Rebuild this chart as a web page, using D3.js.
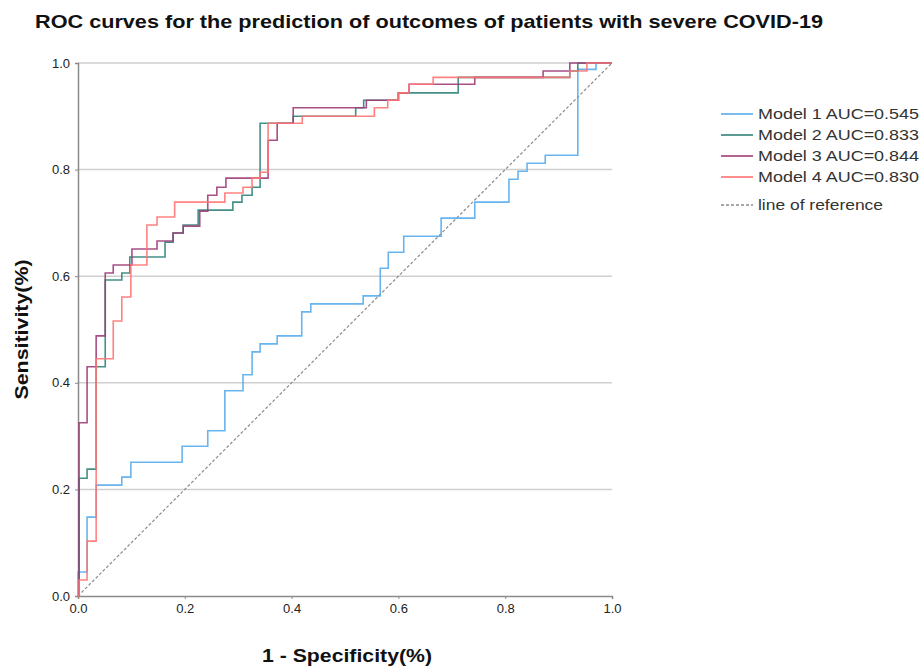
<!DOCTYPE html>
<html>
<head>
<meta charset="utf-8">
<script src="https://cdn.jsdelivr.net/npm/d3@7/dist/d3.min.js"></script>
<style>
  html, body { margin: 0; padding: 0; background: #fff; }
  svg text { font-family: "Liberation Sans", Arial, sans-serif; }
</style>
</head>
<body>
<svg id="chart" width="921" height="666"></svg>
<script>
// ---- data (points are [1-specificity, sensitivity] after each step) ----
const title = "ROC curves for the prediction of outcomes of patients with severe COVID-19";
const xLabel = "1 - Specificity(%)";
const yLabel = "Sensitivity(%)";
const tickValues = [0, 0.2, 0.4, 0.6, 0.8, 1.0];
const seriesNames = ["Model 1 AUC=0.545", "Model 2 AUC=0.833", "Model 3 AUC=0.844", "Model 4 AUC=0.830"];
const referenceName = "line of reference";
const seriesColors = ["#58acec", "#2f8479", "#9e3c78", "#ff7474"];

const model1 = [[0,0],[0,0.045],[0.017,0.148],[0.034,0.208],[0.082,0.223],[0.099,0.251],[0.195,0.281],
  [0.243,0.310],[0.275,0.385],[0.309,0.415],[0.326,0.458],[0.341,0.473],[0.373,0.488],[0.419,0.533],
  [0.436,0.548],[0.534,0.563],[0.566,0.615],[0.581,0.645],[0.610,0.675],[0.680,0.709],[0.743,0.739],
  [0.807,0.782],[0.824,0.797],[0.841,0.812],[0.875,0.827],[0.936,0.988],[0.970,1.0],[1,1]];
const model2 = [[0,0],[0.002,0.221],[0.017,0.238],[0.034,0.430],[0.051,0.593],[0.082,0.606],[0.097,0.636],
  [0.163,0.664],[0.178,0.681],[0.197,0.696],[0.225,0.724],[0.290,0.739],[0.307,0.752],[0.326,0.767],
  [0.341,0.887],[0.403,0.900],[0.520,0.916],[0.535,0.930],[0.600,0.944],[0.712,0.973],[0.921,0.985],
  [0.936,1.0],[1,1]];
const model3 = [[0,0],[0.002,0.325],[0.017,0.430],[0.034,0.488],[0.051,0.606],[0.066,0.621],[0.101,0.651],
  [0.148,0.666],[0.178,0.681],[0.197,0.694],[0.228,0.722],[0.243,0.752],[0.260,0.767],[0.277,0.784],
  [0.356,0.855],[0.373,0.887],[0.403,0.916],[0.540,0.930],[0.600,0.944],[0.620,0.960],[0.743,0.973],
  [0.871,0.985],[0.921,1.0],[1,1]];
const model4 = [[0,0],[0.002,0.030],[0.017,0.103],[0.034,0.445],[0.066,0.516],[0.082,0.561],[0.099,0.621],
  [0.129,0.696],[0.148,0.711],[0.181,0.739],[0.275,0.756],[0.309,0.767],[0.326,0.784],[0.341,0.795],
  [0.356,0.887],[0.420,0.900],[0.555,0.916],[0.580,0.930],[0.600,0.944],[0.620,0.960],[0.665,0.973],
  [0.921,0.985],[0.953,1.0],[1,1]];
const referenceLine = [[0,0],[1,1]];
const allSeries = [model1, model2, model3, model4];

// ---- drawing ----
const svg = d3.select("#chart");
const x = d3.scaleLinear().domain([0, 1]).range([78, 612]);
const y = d3.scaleLinear().domain([0, 1]).range([596, 63]);

// title
svg.append("text")
  .attr("x", 35).attr("y", 28)
  .attr("font-size", 19).attr("font-weight", "bold").attr("fill", "#111")
  .attr("textLength", 788).attr("lengthAdjust", "spacingAndGlyphs")
  .text(title);

// horizontal gridlines
svg.append("g").selectAll("line")
  .data(tickValues.filter(d => d > 0))
  .join("line")
  .attr("x1", x(0)).attr("x2", x(1))
  .attr("y1", d => y(d)).attr("y2", d => y(d))
  .attr("stroke", "#cfcfcf").attr("stroke-width", 1.5);

// axes
const fmt = d3.format(".1f");
const yAxis = svg.append("g").attr("transform", `translate(${x(0)},0)`)
  .call(d3.axisLeft(y).tickValues(tickValues).tickFormat(fmt).tickSize(3).tickPadding(5));
const xAxis = svg.append("g").attr("transform", `translate(0,${y(0)})`)
  .call(d3.axisBottom(x).tickValues(tickValues).tickFormat(fmt).tickSize(3).tickPadding(5));
[xAxis, yAxis].forEach(a => {
  a.select(".domain").attr("stroke", "#8a8a8a").attr("stroke-width", 1.5);
  a.selectAll(".tick line").attr("stroke", "#8a8a8a");
  a.selectAll(".tick text").attr("font-size", 13).attr("fill", "#222")
    .attr("font-family", "'Liberation Sans', Arial, sans-serif");
});

// axis titles
svg.append("text")
  .attr("x", 262).attr("y", 662)
  .attr("font-size", 18).attr("font-weight", "bold").attr("fill", "#111")
  .attr("textLength", 170).attr("lengthAdjust", "spacingAndGlyphs")
  .text(xLabel);
svg.append("text")
  .attr("transform", `translate(28,${(y(0) + y(1)) / 2}) rotate(-90)`)
  .attr("text-anchor", "middle").attr("font-size", 18).attr("font-weight", "bold").attr("fill", "#111")
  .attr("textLength", 140).attr("lengthAdjust", "spacingAndGlyphs")
  .text(yLabel);

// reference line
svg.append("path")
  .datum(referenceLine)
  .attr("d", d3.line().x(d => x(d[0])).y(d => y(d[1])))
  .attr("fill", "none").attr("stroke", "#8c8c8c").attr("stroke-width", 1.2)
  .attr("stroke-dasharray", "3,2");

// ROC curves
const stepLine = d3.line().x(d => x(d[0])).y(d => y(d[1])).curve(d3.curveStepAfter);
svg.append("g").selectAll("path")
  .data(allSeries)
  .join("path")
  .attr("d", stepLine)
  .attr("fill", "none")
  .attr("stroke", (d, i) => seriesColors[i])
  .attr("stroke-width", 1.6)
  .attr("stroke-opacity", 0.9);

// legend
const legendRows = seriesNames.map((n, i) => ({ name: n, color: seriesColors[i], dash: null, w: 161 }))
  .concat([{ name: referenceName, color: "#8c8c8c", dash: "3,2", w: 125 }]);
const legendY = [114, 135, 156, 177, 205];
const lg = svg.append("g");
legendRows.forEach((r, i) => {
  lg.append("line")
    .attr("x1", 721).attr("x2", 753)
    .attr("y1", legendY[i]).attr("y2", legendY[i])
    .attr("stroke", r.color).attr("stroke-width", 1.6)
    .attr("stroke-dasharray", r.dash);
  lg.append("text")
    .attr("x", 758).attr("y", legendY[i] + 5)
    .attr("font-size", 15).attr("fill", "#333")
    .attr("textLength", r.w).attr("lengthAdjust", "spacingAndGlyphs")
    .text(r.name);
});
</script>
</body>
</html>
